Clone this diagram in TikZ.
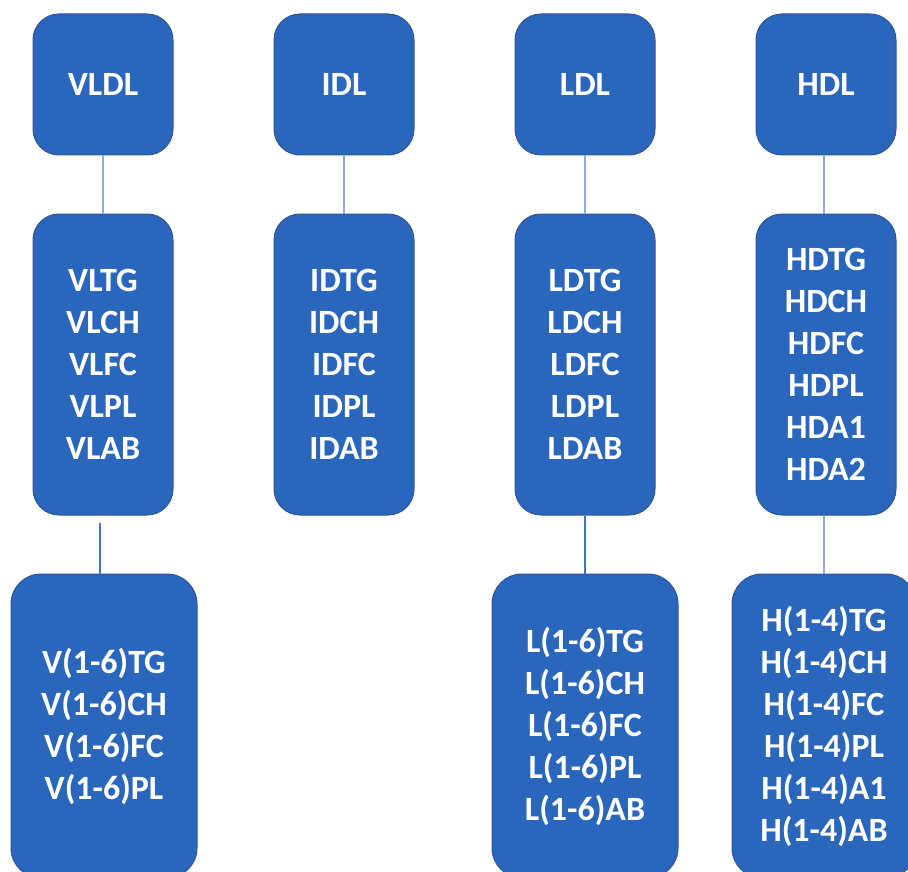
\documentclass[tikz,border=0pt]{standalone}
\usepackage{fontspec}
\setmainfont{Carlito}
\definecolor{boxfill}{HTML}{2A66BC}
\definecolor{boxline}{HTML}{2F5597}
\definecolor{linklight}{HTML}{8FAADC}
\definecolor{linkdark}{HTML}{4472C4}
\begin{document}
\begin{tikzpicture}[x=1pt,y=-1pt,
  box/.style={draw=boxline, line width=1pt, fill=boxfill, rounded corners=26pt, text=white,
    font=\fontsize{34}{42}\selectfont\bfseries, align=center, inner sep=0pt},
  link/.style={draw=linklight, line width=1.2pt},
  linkd/.style={draw=linkdark, line width=1.2pt}]
\useasboundingbox (0,0) rectangle (908,872);
\clip (0,0) rectangle (908,872);
% row 1
\node[box, minimum width=140pt, minimum height=141pt] (vldl) at (103,84.5) {VLDL};
\node[box, minimum width=140pt, minimum height=141pt] (idl) at (344,84.5) {IDL};
\node[box, minimum width=140pt, minimum height=141pt] (ldl) at (585,84.5) {LDL};
\node[box, minimum width=140pt, minimum height=141pt] (hdl) at (826,84.5) {HDL};
% row 2
\node[box, minimum width=140pt, minimum height=301pt] (vl) at (103,364.5) {VLTG\\VLCH\\VLFC\\VLPL\\VLAB};
\node[box, minimum width=140pt, minimum height=301pt] (id) at (344,364.5) {IDTG\\IDCH\\IDFC\\IDPL\\IDAB};
\node[box, minimum width=140pt, minimum height=301pt] (ld) at (585,364.5) {LDTG\\LDCH\\LDFC\\LDPL\\LDAB};
\node[box, minimum width=140pt, minimum height=301pt] (hd) at (826,364.5) {HDTG\\HDCH\\HDFC\\HDPL\\HDA1\\HDA2};
% row 3
\node[box, rounded corners=30pt, minimum width=186pt, minimum height=304pt] (v3) at (104,726) {V(1-6)TG\\V(1-6)CH\\V(1-6)FC\\V(1-6)PL};
\node[box, rounded corners=30pt, minimum width=186pt, minimum height=304pt] (l3) at (585,726) {L(1-6)TG\\L(1-6)CH\\L(1-6)FC\\L(1-6)PL\\L(1-6)AB};
\node[box, rounded corners=30pt, minimum width=184pt, minimum height=304pt] (h3) at (824,726) {H(1-4)TG\\H(1-4)CH\\H(1-4)FC\\H(1-4)PL\\H(1-4)A1\\H(1-4)AB};
% connectors
\draw[link] (vldl.south) -- (vl.north);
\draw[link] (idl.south) -- (id.north);
\draw[link] (ldl.south) -- (ld.north);
\draw[link] (hdl.south -| h3.north) -- (hd.north -| h3.north);
\coordinate (vstart) at (100,523);
\draw[linkd] (vstart) -- (vstart |- v3.north);
\draw[linkd] (ld.south) -- (l3.north);
\draw[link] (hd.south -| h3.north) -- (h3.north);
\end{tikzpicture}
\end{document}
